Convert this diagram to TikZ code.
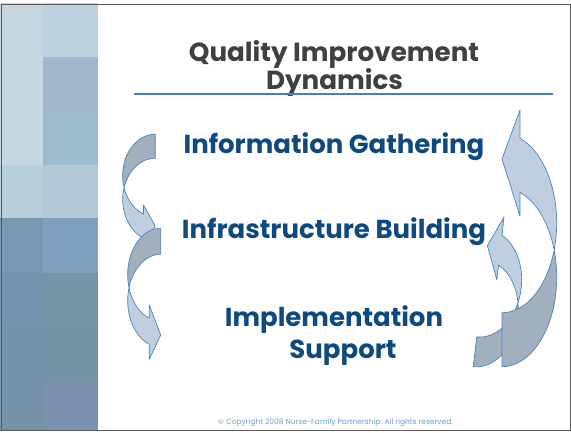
\documentclass[tikz,border=0pt]{standalone}
\usepackage{fontspec}
\setmainfont{Poppins}
\definecolor{titlegray}{RGB}{64,64,64}
\definecolor{textblue}{RGB}{14,74,128}
\definecolor{rulecol}{RGB}{74,126,185}
\definecolor{arrline}{RGB}{79,129,189}
\definecolor{arrdark}{RGB}{160,176,189}
\definecolor{arrlight}{RGB}{190,208,223}
\definecolor{copycol}{RGB}{110,160,208}
\definecolor{framecol}{RGB}{90,90,90}
\begin{document}
\begin{tikzpicture}[x=1pt,y=-1pt,
  darkpart/.style={fill=arrdark,draw=arrline,line width=0.7pt,line join=round},
  lightpart/.style={fill=arrlight,draw=arrline,line width=0.7pt,line join=round},
  bluetext/.style={text=textblue,font=\bfseries\fontsize{26}{29}\selectfont,inner sep=0pt,anchor=base},
  titletext/.style={text=titlegray,font=\bfseries\fontsize{26.2}{29}\selectfont,inner sep=0pt,anchor=base},
  every plot/.style={samples=40}]
\useasboundingbox (0,0) rectangle (571,433);
\fill[white] (0,0) rectangle (571,433);
% left panel
\fill[fill={rgb,255:red,198;green,214;blue,224}] (0,3.5) rectangle (43,165);
\fill[fill={rgb,255:red,184;green,206;blue,219}] (0,165) rectangle (43,218);
\fill[fill={rgb,255:red,122;green,151;blue,177}] (0,218) rectangle (43,273);
\fill[fill={rgb,255:red,118;green,147;blue,174}] (0,273) rectangle (43,327);
\fill[fill={rgb,255:red,117;green,146;blue,168}] (0,327) rectangle (43,431);
\fill[fill={rgb,255:red,189;green,210;blue,222}] (43,3.5) rectangle (97.7,57);
\fill[fill={rgb,255:red,162;green,181;blue,205}] (43,57) rectangle (97.7,110);
\fill[fill={rgb,255:red,156;green,185;blue,206}] (43,110) rectangle (97.7,165);
\fill[fill={rgb,255:red,180;green,201;blue,216}] (43,165) rectangle (97.7,218);
\fill[fill={rgb,255:red,126;green,161;blue,191}] (43,218) rectangle (97.7,273);
\fill[fill={rgb,255:red,118;green,148;blue,166}] (43,273) rectangle (97.7,327);
\fill[fill={rgb,255:red,117;green,146;blue,166}] (43,327) rectangle (97.7,382);
\fill[fill={rgb,255:red,123;green,145;blue,174}] (43,382) rectangle (97.7,431);
% frame
\draw[framecol,line width=1pt] (1.5,4.7) rectangle (570,430.5);
% title
\node[titletext] (title1) at (334,61.7) {Quality Improvement};
\node[titletext] (title2) at (334.5,90) {Dynamics};
\draw[rulecol,line width=2pt] (134,94.5) -- (553,94.5);
% main texts
\node[bluetext] (info) at (334,154) {Information Gathering};
\node[bluetext] (infra) at (334,238.5) {Infrastructure Building};
\node[bluetext] (impl1) at (334,326.7) {Implementation};
\node[bluetext] (impl2) at (343,358) {Support};
% copyright
\node[text=copycol,font=\fontsize{7.5}{8.5}\selectfont,inner sep=0pt,anchor=base] (copy) at (335.5,424.5) {© Copyright 2008 Nurse-Family Partnership. All rights reserved.};
% upper-left arrow
\path[darkpart] plot[domain=270:163.1] ({155.3+32.6*cos(\x)},{175.55+41.25*sin(\x)})
  -- plot[domain=196.9:270] ({155.3+32.6*cos(\x)},{199.55+41.25*sin(\x)}) -- cycle;
\path[lightpart] plot[domain=163.1:111.2] ({155.3+32.6*cos(\x)},{175.55+41.25*sin(\x)})
  -- (143.5,205) -- (155.3,226) -- (143.5,247)
  -- plot[domain=111.2:196.9] ({155.3+32.6*cos(\x)},{199.55+41.25*sin(\x)}) -- cycle;
% lower-left arrow
\path[darkpart] plot[domain=270:163.7] ({160.7+33*cos(\x)},{274.7+46.4*sin(\x)})
  -- plot[domain=196.3:270] ({160.7+33*cos(\x)},{300.7+46.4*sin(\x)}) -- cycle;
\path[lightpart] plot[domain=163.7:110.2] ({160.7+33*cos(\x)},{274.7+46.4*sin(\x)})
  -- (149.3,305) -- (160.7,335) -- (149.3,359.3)
  -- plot[domain=110.2:196.3] ({160.7+33*cos(\x)},{300.7+46.4*sin(\x)}) -- cycle;
% small right arrow
\begin{scope}[rotate around={-6.5:(497,292)}]
\path[darkpart] plot[domain=90:-16.25] ({481.9+38.7*cos(\x)},{315.3+53.6*sin(\x)})
  -- plot[domain=16.25:90] ({481.9+38.7*cos(\x)},{285.3+53.6*sin(\x)}) -- cycle;
\path[lightpart] plot[domain=16.25:-69.4] ({481.9+38.7*cos(\x)},{285.3+53.6*sin(\x)})
  -- (495.5,217) -- (482.2,247) -- (495.5,280)
  -- plot[domain=-69.4:-16.25] ({481.9+38.7*cos(\x)},{315.3+53.6*sin(\x)}) -- cycle;
\end{scope}
% big right arrow
\path[darkpart] plot[domain=90:-17.5] ({502+54.7*cos(\x)},{277+89.7*sin(\x)})
  -- plot[domain=17.5:90] ({502+54.7*cos(\x)},{223+89.7*sin(\x)}) -- cycle;
\path[lightpart] plot[domain=17.5:-70.8] ({502+54.7*cos(\x)},{223+89.7*sin(\x)})
  -- (520,110) -- (502,159) -- (520,216)
  -- plot[domain=-70.8:-17.5] ({502+54.7*cos(\x)},{277+89.7*sin(\x)}) -- cycle;
\end{tikzpicture}
\end{document}
